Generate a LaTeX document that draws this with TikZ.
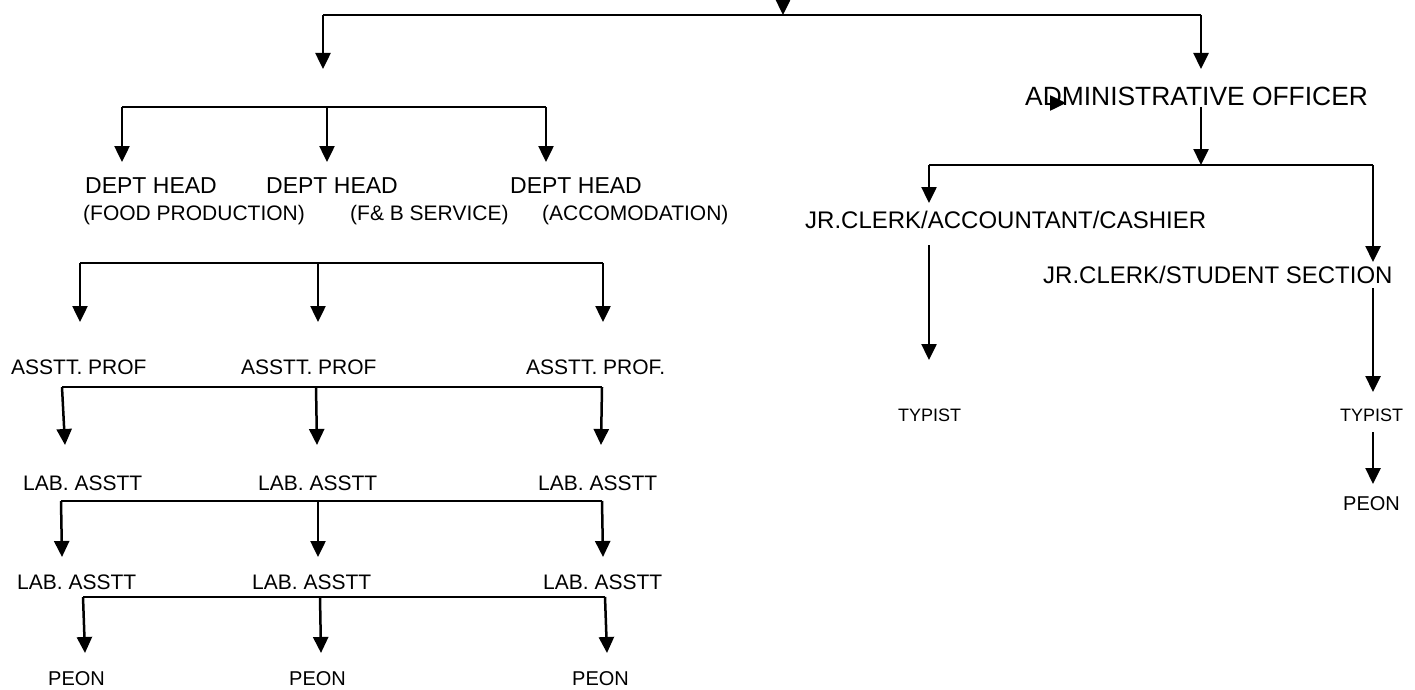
\documentclass[tikz,border=0pt]{standalone}
\usepackage{fontspec}
\setmainfont{Liberation Sans}
\usetikzlibrary{arrows.meta}
\newcommand{\fsz}[1]{\fontsize{#1}{#1}\selectfont}
\tikzset{
  bar/.style={line width=2.5pt},
  arr/.style={line width=2.5pt, -{Triangle[length=16pt,width=15pt]}},
  lbl/.style={anchor=base west, inner sep=0pt, font=\fsz{#1}}
}

\begin{document}
\begin{tikzpicture}[x=1pt,y=-1pt]
\useasboundingbox (0,0) rectangle (1415,690);
% top split
\coordinate (top) at (783,0);
\coordinate (hub) at (783,15);
\coordinate (acad) at (323,15);
\coordinate (acadT) at (323,69);
\coordinate (admin) at (1201,15);
\coordinate (adminT) at (1201,69);
\draw[arr] (top) -- (hub);
\draw[bar] (acad) -- (admin);
\draw[arr] (acad) -- (acadT);
\draw[arr] (admin) -- (adminT);

% office side
\node[lbl=26.4] (ao) at (1025,106) {ADMINISTRATIVE OFFICER};
\coordinate (stray) at (1050,103);
\coordinate (strayT) at (1066,103);
\draw[arr] (stray) -- (strayT);
\coordinate (aoB) at (1201,107);
\coordinate (jr) at (1201,165);
\coordinate (jrL) at (929,165);
\coordinate (jrR) at (1373,165);
\coordinate (jrLT) at (929,203);
\coordinate (jrRT) at (1373,262);
\draw[arr] (aoB) -- (jr);
\draw[bar] (jrL) -- (jrR);
\draw[arr] (jrL) -- (jrLT);
\draw[arr] (jrR) -- (jrRT);
\node[lbl=24] (jr1) at (805,228.6) {JR.CLERK/ACCOUNTANT/CASHIER};
\node[lbl=24] (jr2) at (1043,283.6) {JR.CLERK/STUDENT SECTION};
\coordinate (jr1B) at (929,245);
\coordinate (ty1T) at (929,360);
\coordinate (jr2B) at (1373,288);
\coordinate (ty2T) at (1373,392);
\draw[arr] (jr1B) -- (ty1T);
\draw[arr] (jr2B) -- (ty2T);
\node[lbl=18] (ty1) at (898,421.5) {TYPIST};
\node[lbl=18] (ty2) at (1340,421.5) {TYPIST};
\coordinate (ty2B) at (1373,432);
\coordinate (pnT) at (1373,484);
\draw[arr] (ty2B) -- (pnT);
\node[lbl=20] (pn) at (1343,510) {PEON};

% departments
\coordinate (d1) at (122,107);
\coordinate (d2) at (327,107);
\coordinate (d3) at (546,107);
\coordinate (d1T) at (122,162);
\coordinate (d2T) at (327,162);
\coordinate (d3T) at (546,162);
\draw[bar] (d1) -- (d3);
\draw[arr] (d1) -- (d1T);
\draw[arr] (d2) -- (d2T);
\draw[arr] (d3) -- (d3T);
\node[lbl=23] (dh1) at (85,193) {DEPT HEAD};
\node[lbl=23] (dh2) at (266,193) {DEPT HEAD};
\node[lbl=23] (dh3) at (510,193) {DEPT HEAD};
\node[lbl=21] (ds1) at (83,220.5) {(FOOD PRODUCTION)};
\node[lbl=21] (ds2) at (350,220.5) {(F\& B SERVICE)};
\node[lbl=21] (ds3) at (542,220.5) {(ACCOMODATION)};

% professors
\coordinate (p1) at (80,263);
\coordinate (p2) at (318,263);
\coordinate (p3) at (603,263);
\coordinate (p1T) at (80,322);
\coordinate (p2T) at (318,322);
\coordinate (p3T) at (603,322);
\draw[bar] (p1) -- (p3);
\draw[arr] (p1) -- (p1T);
\draw[arr] (p2) -- (p2T);
\draw[arr] (p3) -- (p3T);
\node[lbl=21] (ap1) at (11,374.5) {ASSTT. PROF};
\node[lbl=21] (ap2) at (241,374.5) {ASSTT. PROF};
\node[lbl=21] (ap3) at (526,374.5) {ASSTT. PROF.};

% lab row one
\coordinate (a1) at (62,387);
\coordinate (a2) at (316,387);
\coordinate (a3) at (602,387);
\coordinate (a1T) at (65,445);
\coordinate (a2T) at (317,445);
\coordinate (a3T) at (601,445);
\draw[bar] (a1) -- (a3);
\draw[arr] (a1) -- (a1T);
\draw[arr] (a2) -- (a2T);
\draw[arr] (a3) -- (a3T);
\node[lbl=21] (la1) at (23,490.5) {LAB. ASSTT};
\node[lbl=21] (la2) at (258,490.5) {LAB. ASSTT};
\node[lbl=21] (la3) at (538,490.5) {LAB. ASSTT};

% lab row two
\coordinate (b1) at (61,501);
\coordinate (b2) at (318,501);
\coordinate (b3) at (602,501);
\coordinate (b1T) at (62,557);
\coordinate (b2T) at (318,557);
\coordinate (b3T) at (603,557);
\draw[bar] (b1) -- (b3);
\draw[arr] (b1) -- (b1T);
\draw[arr] (b2) -- (b2T);
\draw[arr] (b3) -- (b3T);
\node[lbl=21] (lb1) at (17,589.5) {LAB. ASSTT};
\node[lbl=21] (lb2) at (252,589.5) {LAB. ASSTT};
\node[lbl=21] (lb3) at (543,589.5) {LAB. ASSTT};

% peons
\coordinate (c1) at (83,597);
\coordinate (c2) at (320,597);
\coordinate (c3) at (605,597);
\coordinate (c1T) at (85,653);
\coordinate (c2T) at (321,653);
\coordinate (c3T) at (607,653);
\draw[bar] (c1) -- (c3);
\draw[arr] (c1) -- (c1T);
\draw[arr] (c2) -- (c2T);
\draw[arr] (c3) -- (c3T);
\node[lbl=20] (pe1) at (48,685) {PEON};
\node[lbl=20] (pe2) at (289,685) {PEON};
\node[lbl=20] (pe3) at (572,685) {PEON};
\end{tikzpicture}
\end{document}
